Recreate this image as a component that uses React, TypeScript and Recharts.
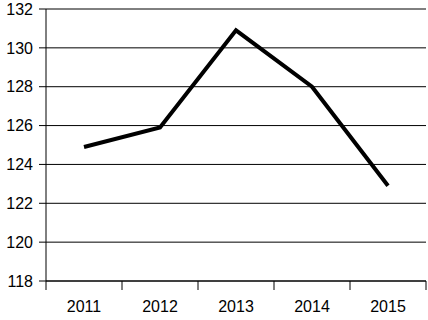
import React from "react";
import { LineChart, Line, XAxis, YAxis, CartesianGrid } from "recharts";

const years = ["2011", "2012", "2013", "2014", "2015"];
const values = [124.9, 125.9, 130.9, 128.0, 122.9];
const yTicks = [118, 120, 122, 124, 126, 128, 130, 132];

const data = years.map((y, i) => ({ idx: i + 1, year: y, value: values[i] }));
const xTicks: number[] = [];
for (let i = 0; i <= years.length; i++) {
  xTicks.push(i + 0.5);
  if (i < years.length) xTicks.push(i + 1);
}

const FONT = "'Liberation Sans', Arial, sans-serif";

const XTick = (props: any) => {
  const { x, y, payload } = props;
  const v = payload.value as number;
  if (Number.isInteger(v)) {
    return (
      <text x={x} y={y + 31} textAnchor="middle" fontFamily={FONT} fontSize={16} fill="#000">
        {years[v - 1]}
      </text>
    );
  }
  return <line x1={x} x2={x} y1={y} y2={y + 9} stroke="#000" strokeWidth={1} />;
};

export default function App() {
  return (
    <div style={{ position: "absolute", left: 0, top: 0, background: "#fff" }}>
      <LineChart width={428} height={320} data={data} margin={{ top: 9, right: 2, bottom: 0, left: 0 }}>
        <CartesianGrid vertical={false} stroke="#000" strokeWidth={1} />
        <XAxis
          dataKey="idx"
          type="number"
          domain={[0.5, 5.5]}
          ticks={xTicks}
          interval={0}
          tickLine={false}
          tickSize={0}
          tickMargin={0}
          height={39}
          axisLine={{ stroke: "#000" }}
          tick={<XTick />}
        />
        <YAxis
          domain={[118, 132]}
          ticks={yTicks}
          interval={0}
          width={46}
          tickSize={7}
          tickMargin={6}
          axisLine={{ stroke: "#000" }}
          tickLine={{ stroke: "#000" }}
          tick={{ fill: "#000", fontSize: 16, fontFamily: FONT }}
        />
        <Line
          dataKey="value"
          stroke="#000"
          strokeWidth={4}
          dot={false}
          isAnimationActive={false}
          strokeLinejoin="miter"
        />
      </LineChart>
    </div>
  );
}
